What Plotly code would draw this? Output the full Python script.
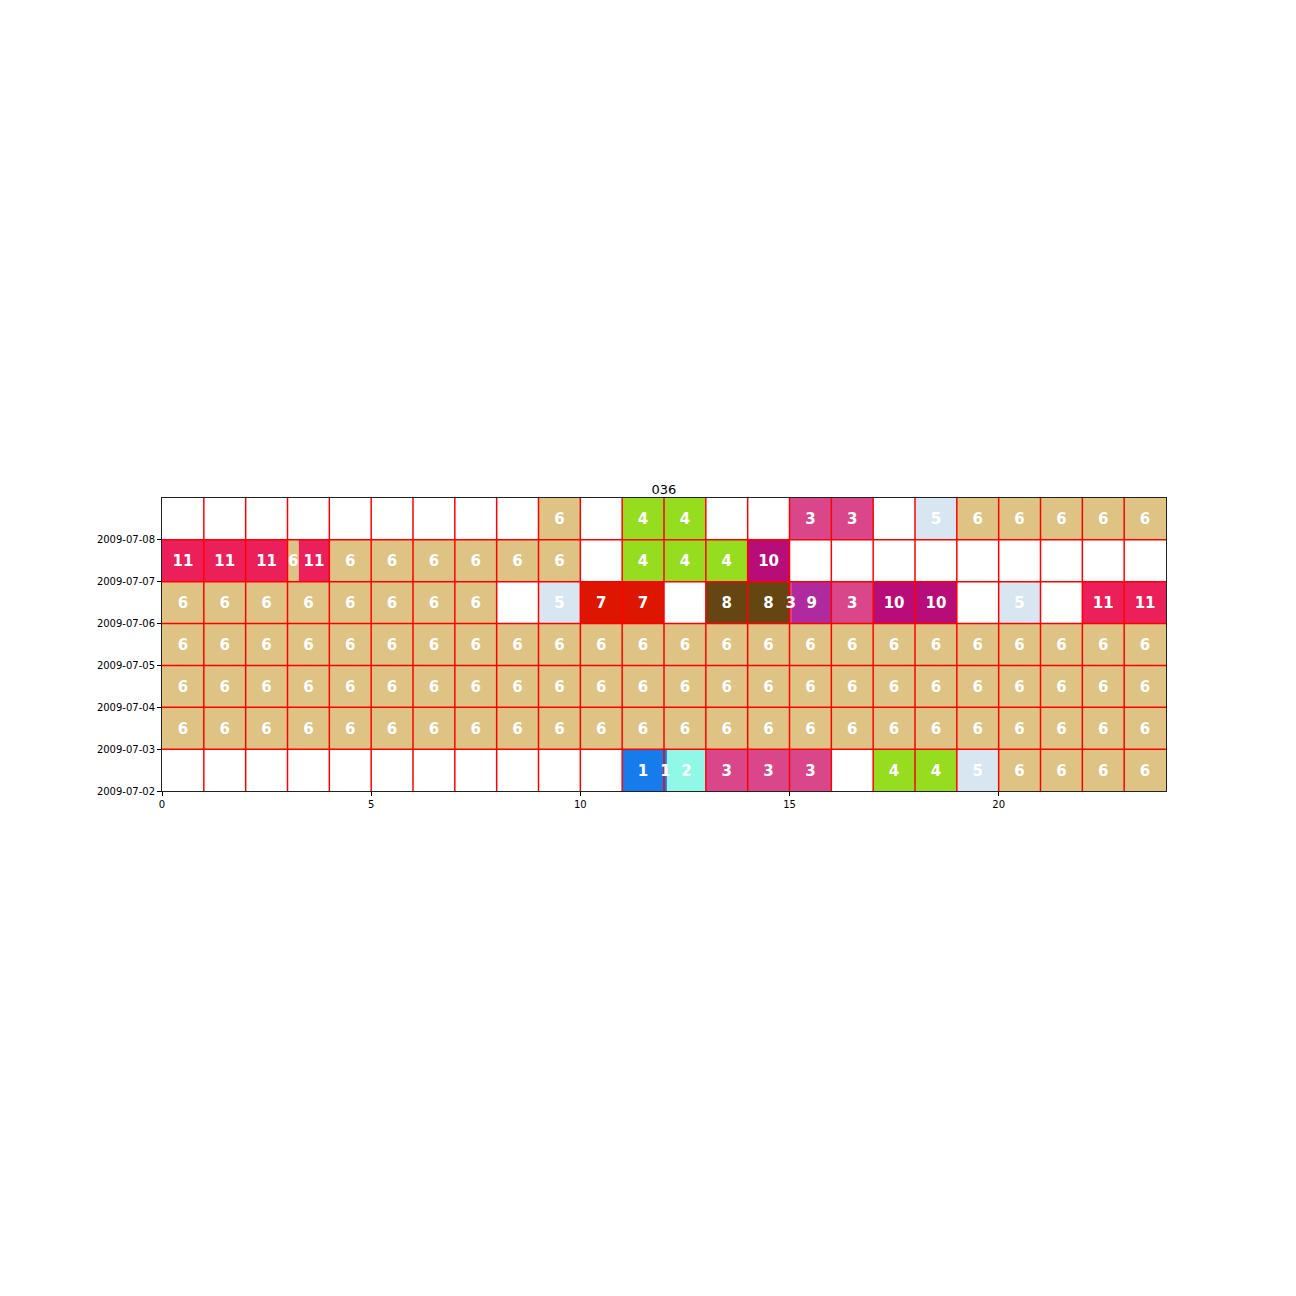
import plotly.graph_objects as go

days = ["2009-07-02", "2009-07-03", "2009-07-04", "2009-07-05",
        "2009-07-06", "2009-07-07", "2009-07-08"]
hours = list(range(24))

# segments: day label, start hour, end hour, activity label
seg_day = []
seg_start = []
seg_end = []
seg_label = []

def add(day, s, e, lab):
    seg_day.append(day); seg_start.append(s); seg_end.append(e); seg_label.append(lab)

# 2009-07-02
row_0702 = {11: "1", 13: "3", 14: "3", 15: "3", 17: "4", 18: "4", 19: "5",
            20: "6", 21: "6", 22: "6", 23: "6"}
split_0702 = [(12, 12.0, 12.07, "1"), (12, 12.07, 13.0, "2")]
# 2009-07-03 .. 05 full of 6
row_full6 = {h: "6" for h in hours}
# 2009-07-06
row_0706 = {0: "6", 1: "6", 2: "6", 3: "6", 4: "6", 5: "6", 6: "6", 7: "6",
            9: "5", 10: "7", 11: "7", 13: "8", 14: "8", 16: "3", 17: "10",
            18: "10", 20: "5", 22: "11", 23: "11"}
split_0706 = [(15, 15.0, 15.06, "3"), (15, 15.06, 16.0, "9")]
# 2009-07-07
row_0707 = {0: "11", 1: "11", 2: "11", 4: "6", 5: "6", 6: "6", 7: "6", 8: "6",
            9: "6", 11: "4", 12: "4", 13: "4", 14: "10"}
split_0707 = [(3, 3.0, 3.27, "6"), (3, 3.27, 4.0, "11")]
# 2009-07-08
row_0708 = {9: "6", 11: "4", 12: "4", 15: "3", 16: "3", 18: "5",
            19: "6", 20: "6", 21: "6", 22: "6", 23: "6"}

for day, row, splits in [("2009-07-02", row_0702, split_0702),
                         ("2009-07-03", row_full6, []),
                         ("2009-07-04", row_full6, []),
                         ("2009-07-05", row_full6, []),
                         ("2009-07-06", row_0706, split_0706),
                         ("2009-07-07", row_0707, split_0707),
                         ("2009-07-08", row_0708, [])]:
    for h, lab in row.items():
        add(day, h, h + 1, lab)
    for (_, s, e, lab) in splits:
        add(day, s, e, lab)

activity_colors = {
    "1": "#167cec", "2": "#90f8e6", "3": "#d9468a", "4": "#97dd1f",
    "5": "#d8e6f1", "6": "#dec384", "7": "#dc1600", "8": "#654511",
    "9": "#b02a9f", "10": "#b80c78", "11": "#eb1f5a",
}

day_idx = {d: i for i, d in enumerate(days)}
ycenter = [day_idx[d] + 0.5 for d in seg_day]
widths = [e - s for s, e in zip(seg_start, seg_end)]
xcenter = [(s + e) / 2 for s, e in zip(seg_start, seg_end)]

fig = go.Figure()
fig.add_trace(go.Bar(
    orientation="h", y=ycenter, x=widths, base=seg_start, width=1.0,
    marker=dict(color=[activity_colors[l] for l in seg_label], line=dict(width=0)),
    hoverinfo="skip", showlegend=False,
))

# red cell grid (hour x day), drawn between the cells and the labels
gx, gy = [], []
for h in range(1, 24):
    gx += [h, h, None]; gy += [0, len(days), None]
for d in range(1, len(days)):
    gx += [0, 24, None]; gy += [d, d, None]
fig.add_trace(go.Scatter(
    x=gx, y=gy, mode="lines", line=dict(color="#ff0000", width=1.5),
    hoverinfo="skip", showlegend=False,
))

fig.add_trace(go.Scatter(
    x=xcenter, y=[y - 0.04 for y in ycenter], mode="text", text=seg_label,
    textfont=dict(family="DejaVu Sans", size=15, color="white", weight="bold"),
    hoverinfo="skip", showlegend=False, cliponaxis=False,
))

fig.update_layout(
    width=1296, height=1296,
    margin=dict(l=162, r=130, t=498, b=505),
    paper_bgcolor="white", plot_bgcolor="white",
    font=dict(family="DejaVu Sans", size=10, color="black"),
    barmode="overlay",
    title=dict(text="036", x=0.5, xref="paper", xanchor="center",
               y=1, yref="paper", yanchor="bottom", pad=dict(b=4),
               font=dict(size=13, color="black")),
)
fig.update_xaxes(range=[0, 24], tickvals=[0, 5, 10, 15, 20], ticks="outside",
                 ticklen=4, tickcolor="black", showgrid=False, zeroline=False,
                 showline=True, linecolor="#222222", linewidth=1, mirror=True,
                 tickfont=dict(size=10))
fig.update_yaxes(range=[0, len(days)], tickvals=list(range(len(days))), ticktext=days,
                 ticks="outside", ticklen=4, tickcolor="black", showgrid=False,
                 zeroline=False, showline=True, linecolor="#222222", linewidth=1,
                 mirror=True, tickfont=dict(size=10))

fig.write_html("out.html")
